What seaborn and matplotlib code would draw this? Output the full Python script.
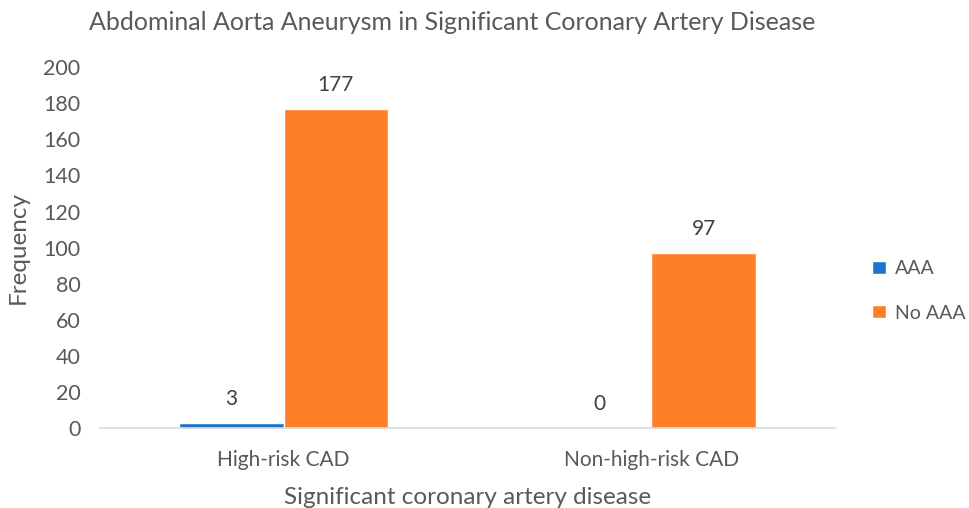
import numpy as np
import pandas as pd
import matplotlib
matplotlib.use("Agg")
import matplotlib.pyplot as plt
import seaborn as sns

categories = ["High-risk CAD", "Non-high-risk CAD"]
series = ["AAA", "No AAA"]
aaa = [3, 0]
no_aaa = [177, 97]
colors = ["#1C74CC", "#FF7F27"]
yticks = list(range(0, 201, 20))

df = pd.DataFrame({
    "cad": categories * 2,
    "group": [series[0]] * 2 + [series[1]] * 2,
    "freq": aaa + no_aaa,
})

sns.set_style("white")
plt.rcParams["font.family"] = ["Lato", "DejaVu Sans"]
grey = "#595959"

fig = plt.figure(figsize=(9.69, 5.08), dpi=100)
ax = fig.add_axes([0.103, 0.157, 0.759, 0.711])

sns.barplot(data=df, x="cad", y="freq", hue="group", palette=colors,
            width=0.567, saturation=1, ax=ax, legend=True)

for cont in ax.containers:
    ax.bar_label(cont, fmt="%d", padding=10, fontsize=15, color="#404040")

ax.set_ylim(0, 200)
ax.set_xlim(-0.5, 1.5)
ax.set_yticks(yticks)
ax.tick_params(axis="x", length=0, labelsize=15, colors=grey, pad=16)
ax.tick_params(axis="y", length=0, labelsize=15.5, colors=grey, pad=14)
for s in ["top", "right", "left"]:
    ax.spines[s].set_visible(False)
ax.spines["bottom"].set_color("#d9d9d9")
ax.spines["bottom"].set_linewidth(1.2)

ax.set_xlabel("Significant coronary artery disease", fontsize=17.5, color=grey, labelpad=12)
ax.set_ylabel("Frequency", fontsize=17.5, color=grey, labelpad=10)
fig.text(0.092, 0.955, "Abdominal Aorta Aneurysm in Significant Coronary Artery Disease",
         fontsize=18, color=grey, va="center", ha="left")

leg = ax.legend(loc="center left", bbox_to_anchor=(1.032, 0.38), frameon=False,
                fontsize=14, handlelength=0.68, handleheight=0.68, labelspacing=1.4,
                handletextpad=0.5, borderaxespad=0.3)
for t in leg.get_texts():
    t.set_color(grey)

fig.savefig("out.png", dpi=100)
